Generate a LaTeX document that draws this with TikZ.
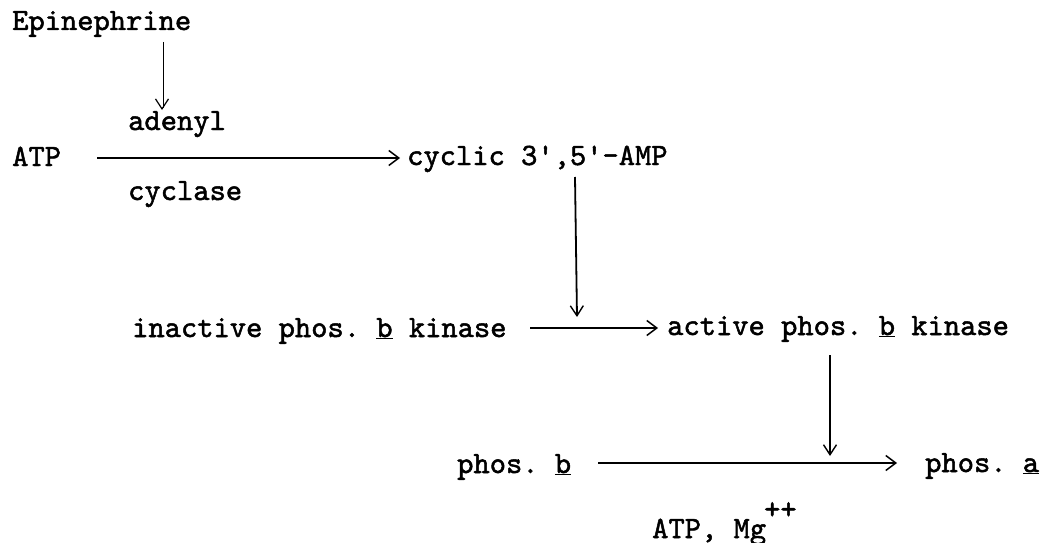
\documentclass[tikz,border=0pt]{standalone}
\usepackage{fontspec}
\newfontfamily\tw{lmmono10-regular.otf}[FakeBold=1.6]
\usetikzlibrary{arrows.meta}
\tikzset{
  lbl/.style={anchor=base west, inner sep=0pt, font=\tw\fontsize{31}{36}\selectfont\frenchspacing},
  rx/.style={line width=2.4pt, -{Straight Barb[length=10pt,width=15pt,line width=1.5pt]}},
  vx/.style={line width=1.8pt, -{Straight Barb[length=10pt,width=13pt,line width=1.4pt]}},
  hx/.style={double, double distance=1.4pt, line width=0.8pt, -{Straight Barb[length=10pt,width=13pt,line width=1.2pt]}}
}
\begin{document}
\begin{tikzpicture}[x=1pt,y=-1pt]
\useasboundingbox (0,0) rectangle (1042,543);
\node[lbl] (epi) at (12,30) {Epinephrine};
\node[lbl] (aden) at (128,130) {adenyl};
\node[lbl] (atp) at (12,166) {ATP};
\node[lbl] (camp) at (407,165) {cyclic 3',5'-AMP};
\node[lbl] (cyc) at (128,200) {cyclase};
\node[lbl] (inact) at (132,337) {inactive phos. \underline{b} kinase};
\node[lbl] (act) at (667,335) {active phos. \underline{b} kinase};
\node[lbl] (phb) at (457,473) {phos. \underline{b}};
\node[lbl] (pha) at (925,472) {phos. \underline{a}};
\node[lbl] (atpmg) at (652,538) {ATP, Mg\kern-2pt\raisebox{0.62em}{++}};
\coordinate (e1) at (162,42);
\coordinate (e2) at (162,110);
\coordinate (a1) at (97,158);
\coordinate (a2) at (400,158);
\coordinate (c1) at (575,177);
\coordinate (c2) at (577,317);
\coordinate (k1) at (530,328);
\coordinate (k2) at (658,328);
\coordinate (d1) at (830,355);
\coordinate (d2) at (830,456);
\coordinate (p1) at (598,463);
\coordinate (p2) at (897,463);
\draw[hx] (e1) -- (e2);
\draw[rx] (a1) -- (a2);
\draw[vx] (c1) -- (c2);
\draw[rx] (k1) -- (k2);
\draw[vx] (d1) -- (d2);
\draw[rx] (p1) -- (p2);
\end{tikzpicture}
\end{document}
